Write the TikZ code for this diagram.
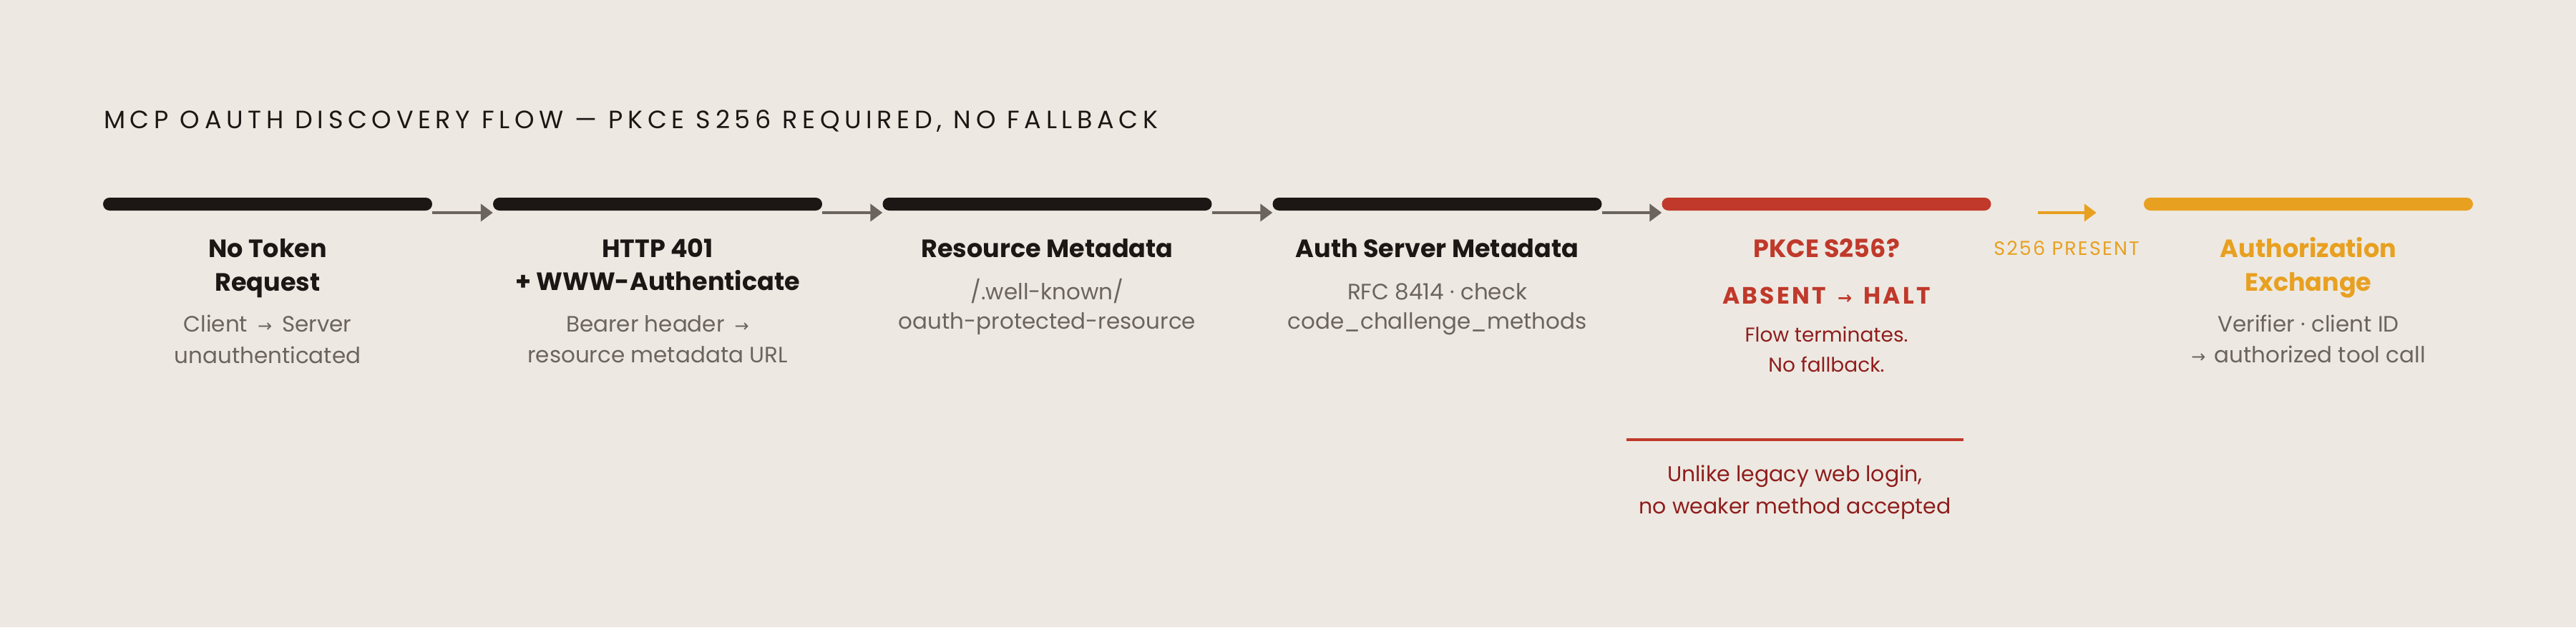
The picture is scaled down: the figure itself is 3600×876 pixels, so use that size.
\documentclass[tikz,border=0pt]{standalone}
\usepackage{fontspec}
\usetikzlibrary{arrows.meta}
\setmainfont{Poppins}
\newfontfamily\arrowfont{DejaVu Sans}
\newfontfamily\hdrfont[LetterSpace=19]{Poppins}
\newfontfamily\spacedfont[LetterSpace=10]{Poppins}
\newfontfamily\labelfont[LetterSpace=8]{Poppins}
\definecolor{bg}{HTML}{EDE9E2}
\definecolor{ink}{HTML}{1C1714}
\definecolor{muted}{HTML}{6B645D}
\definecolor{arrowgray}{HTML}{6B645E}
\definecolor{alert}{HTML}{C0392B}
\definecolor{darkalert}{HTML}{8F1D1D}
\definecolor{amber}{HTML}{E8A020}
\newcommand{\smallarrow}{{\arrowfont\fontsize{24}{24}\selectfont →}}
\tikzset{
  bar/.style={rectangle, rounded corners=9pt, minimum width=460pt, minimum height=18pt, inner sep=0pt, draw=none},
  ttl/.style={anchor=base, inner sep=0pt, font=\fontsize{35}{40}\selectfont\bfseries, text=ink},
  sub/.style={anchor=base, inner sep=0pt, font=\fontsize{31}{36}\selectfont, text=muted},
  flow/.style={draw=arrowgray, line width=4.5pt, -{Triangle[length=17pt,width=24pt]}},
  okflow/.style={draw=amber, line width=4pt, -{Triangle[length=17pt,width=24pt]}},
}
\begin{document}
\begin{tikzpicture}[x=1pt,y=-1pt]
\fill[bg] (0,0) rectangle (3600,876);
\useasboundingbox (0,0) rectangle (3600,876);

% header
\node[anchor=base west, inner sep=0pt, font=\hdrfont\fontsize{35}{40}\selectfont, text=ink] (hdr) at (145,179) {MCP OAUTH DISCOVERY FLOW — PKCE S256 REQUIRED, NO FALLBACK};

% bars
\node[bar, fill=ink] (b1) at (374,285) {};
\node[bar, fill=ink] (b2) at (919,285) {};
\node[bar, fill=ink] (b3) at (1463.5,285) {};
\node[bar, fill=ink] (b4) at (2008.5,285) {};
\node[bar, fill=alert] (b5) at (2552.5,285) {};
\node[bar, fill=amber] (b6) at (3226,285) {};

% connectors
\draw[flow] ([yshift=-12pt]b1.east) -- ([yshift=-12pt]b2.west);
\draw[flow] ([yshift=-12pt]b2.east) -- ([yshift=-12pt]b3.west);
\draw[flow] ([yshift=-12pt]b3.east) -- ([yshift=-12pt]b4.west);
\draw[flow] ([yshift=-12pt]b4.east) -- ([yshift=-12pt]b5.west);
\draw[okflow, shorten <=65pt, shorten >=66pt] ([yshift=-12pt]b5.east) -- ([yshift=-12pt]b6.west);

% step 1
\node[ttl] (t1a) at (374,359) {No Token};
\node[ttl] (t1b) at (374,406) {Request};
\node[sub] (s1a) at (374,463) {Client\hspace{14pt}\smallarrow\hspace{14pt}Server};
\node[sub] (s1b) at (374,507) {unauthenticated};

% step 2
\node[ttl] (t2a) at (919,359) {HTTP 401};
\node[ttl] (t2b) at (919,405) {+ WWW-Authenticate};
\node[sub] (s2a) at (919,463) {Bearer header\hspace{14pt}\smallarrow};
\node[sub] (s2b) at (919,506) {resource metadata URL};

% step 3
\node[ttl] (t3a) at (1463.5,359) {Resource Metadata};
\node[sub] (s3a) at (1463.5,418) {/.well-known/};
\node[sub] (s3b) at (1463.5,459) {oauth-protected-resource};

% step 4
\node[ttl] (t4a) at (2008.5,359) {Auth Server Metadata};
\node[sub] (s4a) at (2008.5,418) {RFC 8414 · check};
\node[sub] (s4b) at (2008.5,459) {code\_challenge\_methods};

% step 5
\node[ttl, text=alert] (t5a) at (2552.5,359) {PKCE S256?};
\node[anchor=base, inner sep=0pt, font=\spacedfont\fontsize{33}{40}\selectfont\bfseries, text=alert] (t5b) at (2552.5,424) {ABSENT\hspace{16pt}{\arrowfont\fontsize{24}{24}\selectfont →}\hspace{16pt}HALT};
\node[sub, text=darkalert, font=\fontsize{28}{34}\selectfont] (s5a) at (2552.5,477) {Flow terminates.};
\node[sub, text=darkalert, font=\fontsize{28}{34}\selectfont] (s5b) at (2552.5,519) {No fallback.};

% note
\node[rectangle, fill=alert, inner sep=0pt, minimum width=471pt, minimum height=3.5pt] (div) at (2508.5,614) {};
\node[sub, text=darkalert, font=\fontsize{30}{36}\selectfont] (n1) at (2508.5,672) {Unlike legacy web login,};
\node[sub, text=darkalert, font=\fontsize{30}{36}\selectfont] (n2) at (2508.5,717) {no weaker method accepted};

% present label
\node[anchor=base, inner sep=0pt, font=\labelfont\fontsize{27}{32}\selectfont, text=amber] (pres) at (2888,356) {S256 PRESENT};

% step 6
\node[ttl, text=amber] (t6a) at (3226,359) {Authorization};
\node[ttl, text=amber] (t6b) at (3226,406) {Exchange};
\node[sub] (s6a) at (3226,463) {Verifier · client ID};
\node[sub] (s6b) at (3226,506) {\smallarrow\hspace{12pt}authorized tool call};
\end{tikzpicture}
\end{document}
